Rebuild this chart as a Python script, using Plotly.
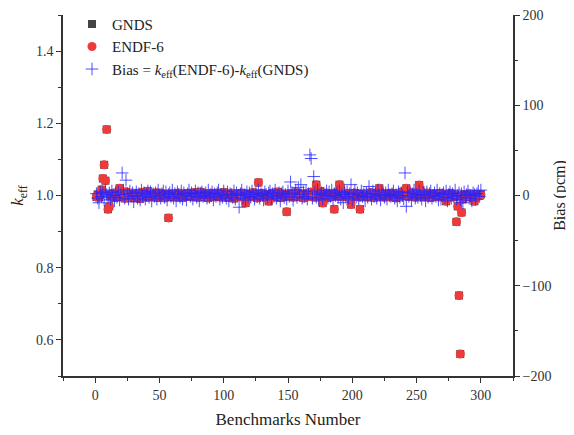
import plotly.graph_objects as go

benchmarks = list(range(1, 301))

keff_gnds = [
    0.996, 1.003, 0.995, 1.004, 1.016, 1.047, 1.085, 1.041, 1.183, 0.962, 0.970, 1.002, 0.998, 1.006, 0.994,
    1.001, 1.008, 0.997, 1.020, 1.003, 0.999, 1.005, 0.992, 1.010, 1.002, 0.996, 1.004, 0.998, 1.007, 0.993,
    1.000, 1.006, 0.997, 1.003, 0.991, 1.002, 1.009, 0.999, 1.004, 0.995, 1.012, 1.001, 0.998, 1.005, 0.996,
    1.003, 0.999, 1.008, 0.994, 1.002, 1.006, 0.997, 1.001, 0.993, 1.004, 0.999, 0.938, 1.002, 0.996, 1.005,
    0.998, 1.003, 1.000, 0.995, 1.007, 0.999, 1.002, 0.994, 1.004, 1.001, 0.997, 1.006, 0.999, 1.003, 0.996,
    1.002, 1.008, 0.998, 1.001, 0.995, 1.004, 1.010, 0.999, 1.003, 0.997, 1.005, 1.000, 0.993, 1.002, 1.006,
    0.998, 1.004, 0.996, 1.001, 1.007, 0.999, 1.003, 0.995, 1.002, 1.009, 0.997, 1.001, 1.005, 0.994, 1.003,
    0.999, 1.006, 0.992, 1.002, 1.004, 0.998, 1.001, 0.996, 1.007, 1.000, 0.997, 0.979, 1.003, 0.999, 1.005,
    0.996, 1.002, 1.008, 0.998, 1.004, 0.993, 1.036, 1.001, 0.997, 1.006, 0.999, 1.003, 0.995, 1.002, 0.984,
    1.004, 0.998, 1.007, 1.001, 0.996, 1.003, 1.010, 0.999, 0.994, 1.005, 1.001, 0.997, 1.004, 0.955, 1.002,
    0.998, 1.006, 1.000, 0.995, 1.003, 1.008, 0.999, 1.002, 0.996, 1.005, 1.001, 0.993, 1.004, 0.999, 1.006,
    0.997, 1.002, 1.009, 0.998, 1.003, 0.995, 1.030, 1.001, 0.996, 1.012, 1.004, 0.979, 1.002, 0.999, 1.007,
    0.994, 1.003, 1.000, 0.997, 1.005, 0.962, 1.001, 1.008, 0.998, 1.030, 1.022, 0.996, 1.003, 0.999, 1.006,
    1.001, 0.995, 1.004, 0.975, 1.002, 0.998, 1.007, 1.000, 0.996, 1.003, 0.962, 1.001, 0.997, 1.005, 0.999,
    1.004, 0.996, 1.002, 1.008, 0.998, 1.003, 0.994, 1.001, 1.006, 0.999, 1.020, 0.997, 1.003, 1.000, 0.995,
    1.005, 0.999, 1.002, 0.996, 1.007, 1.001, 0.997, 1.004, 0.993, 1.002, 1.006, 0.998, 1.003, 1.010, 0.999,
    1.012, 1.020, 1.004, 0.997, 1.002, 1.008, 0.999, 1.003, 0.995, 1.006, 1.001, 1.029, 1.015, 0.998, 1.004,
    0.996, 1.002, 1.007, 0.999, 1.003, 0.994, 1.001, 1.005, 0.997, 1.003, 1.000, 0.996, 1.006, 0.999, 1.002,
    0.995, 1.004, 0.984, 1.001, 0.998, 1.006, 0.999, 1.003, 0.996, 1.002, 0.927, 0.970, 0.723, 0.561, 0.953,
    0.990, 1.003, 0.997, 1.002, 0.999, 1.005, 0.996, 1.001, 0.994, 0.984, 1.003, 0.998, 1.002, 0.999, 1.003,
]

bias_pcm = [
    2, -3, -8, 4, -1, 3, -5, 6, 1, -2, 3, -4, 5, 0, -6,
    3, -2, 4, -5, 1, 25, 6, -3, 17, 2, -4, 5, -1, 3, -7,
    0, 4, -3, 2, -5, 6, -1, 3, -4, 1, 5, -2, 4, -6, 2,
    -1, 3, -4, 6, 0, -3, 2, 5, -2, 4, -5, 1, 3, -1, 6,
    -3, 2, -6, 4, 1, -2, 5, -4, 3, 0, -5, 2, 6, -1, 3,
    -4, 1, 5, -2, 3, -6, 2, 4, -1, 0, 3, -3, 6, -2, 1,
    4, -5, 2, -1, 3, 6, -4, 1, -2, 5, 0, -3, 4, -6, 2,
    1, -2, 5, -4, 3, 0, -13, 2, 6, -3, 1, -5, 4, -1, 3,
    -2, 5, 1, -4, 3, -1, 6, -3, 2, 0, -5, 4, 1, -2, 3,
    5, -4, 2, -1, 6, -3, 0, 3, -6, 2, 4, -2, 1, -4, 5,
    -1, 15, 3, -5, 2, 6, -2, 9, 1, 12, -3, 4, -1, 5, -4,
    2, 45, 41, -3, 21, 4, -2, 6, -5, 1, 3, -4, 2, 0, 5,
    -3, 4, -1, 6, -5, 2, 0, 3, -2, 5, -4, 1, -8, 3, -1,
    4, -3, 2, 12, -5, 1, 6, -2, 3, -4, 0, 5, -1, 2, -6,
    3, -2, 10, 1, -4, 5, -1, 2, -3, 6, 0, -5, 4, 1, -2,
    3, -4, 6, 0, -1, 2, 5, -3, 1, -6, 4, -2, 3, 0, -4,
    25, -12, 4, -1, 3, -5, 2, 6, -3, 1, -2, 5, 0, -4, 3,
    1, -6, 4, -2, 2, 5, -3, 0, 3, -1, 6, -5, 2, -4, 1,
    3, -2, 5, -6, 1, 4, -3, 2, -1, 6, -4, 0, 3, -5, 2,
    -8, 4, -2, 1, 5, -3, 0, -6, 3, 1, -4, 2, 5, -1, 6,
]

# ENDF-6 keff follows from the definition Bias = keff(ENDF-6) - keff(GNDS), in pcm
keff_endf = [g + b * 1e-5 for g, b in zip(keff_gnds, bias_pcm)]

FONT = "Liberation Serif"
AX = "#333333"

fig = go.Figure()
fig.add_trace(go.Scatter(
    x=benchmarks, y=keff_gnds, mode="markers", name="GNDS",
    marker=dict(symbol="square", size=8, color="#444444"),
))
fig.add_trace(go.Scatter(
    x=benchmarks, y=keff_endf, mode="markers", name="ENDF-6",
    marker=dict(symbol="circle", size=9, color="rgb(238,58,58)"),
))
fig.add_trace(go.Scatter(
    x=benchmarks, y=bias_pcm, mode="markers", yaxis="y2",
    name="Bias = <i>k</i><sub>eff</sub>(ENDF-6)-<i>k</i><sub>eff</sub>(GNDS)",
    marker=dict(symbol="cross-thin", size=9,
                line=dict(width=1, color="rgba(35,35,255,0.8)")),
))

axis_common = dict(
    showline=True, linecolor=AX, linewidth=1.5, ticks="outside", ticklen=5,
    tickwidth=1.2, tickcolor=AX, showgrid=False, zeroline=False, automargin=False,
    ticklabeloverflow="allow",
    tickfont=dict(family=FONT, size=14, color="#333"),
)

# page body has an 8px margin, so the figure is sized to fit the 574x435 window
fig.update_layout(
    width=566, height=427,
    margin=dict(l=55, r=61, t=7, b=59, autoexpand=False),
    plot_bgcolor="white", paper_bgcolor="white",
    font=dict(family=FONT, color="#222"),
    showlegend=True,
    legend=dict(x=0.02, y=1.02, xanchor="left", yanchor="top",
                bgcolor="rgba(0,0,0,0)", font=dict(family=FONT, size=15, color="#222"),
                tracegroupgap=0, itemsizing="trace"),
    xaxis=dict(range=[-25, 325], tick0=0, dtick=50,
               minor=dict(ticks="outside", ticklen=3, dtick=25, tick0=-25, tickcolor=AX),
               title=dict(text="Benchmarks Number", font=dict(family=FONT, size=17, color="#222"), standoff=12),
               **axis_common),
    yaxis=dict(range=[0.5, 1.5], tick0=0.6, dtick=0.2, tickformat=".1f",
               minor=dict(ticks="outside", ticklen=3, dtick=0.1, tick0=0.5, tickcolor=AX),
               title=dict(text="<i>k</i><sub>eff</sub>", font=dict(family=FONT, size=17, color="#222"), standoff=8),
               **axis_common),
    yaxis2=dict(range=[-200, 200], tick0=-200, dtick=100, overlaying="y", side="right",
                minor=dict(ticks="outside", ticklen=3, dtick=50, tick0=-200, tickcolor=AX),
                title=dict(text="Bias (pcm)", font=dict(family=FONT, size=16, color="#222"), standoff=3),
                **axis_common),
)

fig.write_html("out.html")
